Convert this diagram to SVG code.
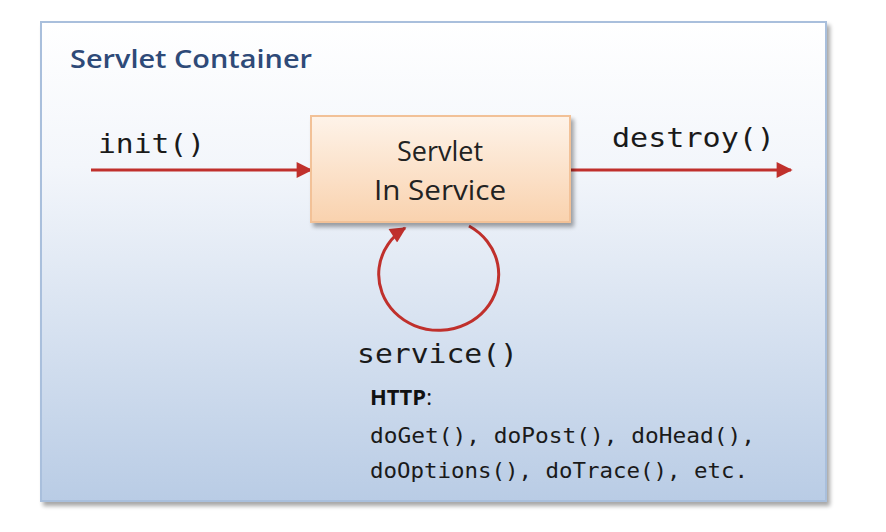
<svg xmlns="http://www.w3.org/2000/svg" width="886" height="532" viewBox="0 0 886 532">
<style>
.mono{font-family:"DejaVu Sans Mono","Liberation Mono",monospace;fill:#1a1a1a}
.sans{font-family:"Open Sans","Liberation Sans",sans-serif;fill:#222}
.conn{stroke:#c0302c;stroke-width:3;fill:none}
</style>
<defs>
<linearGradient id="bg" x1="0" y1="0" x2="0" y2="1">
<stop offset="0" stop-color="#ffffff"/>
<stop offset="0.3" stop-color="#f3f6fb"/>
<stop offset="1" stop-color="#b9cce5"/>
</linearGradient>
<linearGradient id="box" x1="0" y1="0" x2="0" y2="1">
<stop offset="0" stop-color="#fef3e9"/>
<stop offset="1" stop-color="#f9d2ae"/>
</linearGradient>
<filter id="sh" x="-10%" y="-10%" width="120%" height="130%">
<feGaussianBlur in="SourceAlpha" stdDeviation="2"/>
<feOffset dx="3" dy="4"/>
<feComponentTransfer><feFuncA type="linear" slope="0.35"/></feComponentTransfer>
<feMerge><feMergeNode/><feMergeNode in="SourceGraphic"/></feMerge>
</filter>
<marker id="arrL" viewBox="0 0 10 10" refX="9" refY="5" markerWidth="18" markerHeight="16" orient="auto" markerUnits="userSpaceOnUse">
<path d="M0,0 L10,5 L0,10 z" fill="#c0302c"/>
</marker>
</defs>
<rect width="886" height="532" fill="#ffffff"/>
<g id="container">
<rect x="41" y="22" width="785" height="479" fill="url(#bg)" stroke="#a9bfdc" stroke-width="2" filter="url(#sh)"/>
<text x="70" y="68" font-family="'Open Sans','Liberation Sans',sans-serif" font-weight="600" font-size="25" fill="#2e4a78" textLength="242" lengthAdjust="spacingAndGlyphs">Servlet Container</text>
</g>
<g id="connectors">
<line class="conn" x1="91" y1="170" x2="311" y2="170" marker-end="url(#arrL)"/>
<line class="conn" x1="570" y1="170" x2="791" y2="170" marker-end="url(#arrL)"/>
<path class="conn" d="M469,226 A60,56 0 1 1 405,228" marker-end="url(#arrL)"/>
</g>
<g id="servlet">
<rect x="311" y="116" width="259" height="106" fill="url(#box)" stroke="#f2c197" stroke-width="2" filter="url(#sh)"/>
<text class="sans" x="440" y="161" font-size="27" text-anchor="middle">Servlet</text>
<text class="sans" x="440" y="200" font-size="27" text-anchor="middle" textLength="132" lengthAdjust="spacingAndGlyphs">In Service</text>
</g>
<g id="labels">
<text class="mono" x="98" y="153" font-size="27" textLength="107" lengthAdjust="spacingAndGlyphs">init()</text>
<text class="mono" x="612" y="147" font-size="27" textLength="163" lengthAdjust="spacingAndGlyphs">destroy()</text>
<text class="mono" x="357" y="363" font-size="27" textLength="161" lengthAdjust="spacingAndGlyphs">service()</text>
<text x="370" y="405" font-family="'Open Sans','Liberation Sans',sans-serif" font-size="22" fill="#111"><tspan font-weight="bold">HTTP</tspan>:</text>
<text class="mono" x="370" y="443" font-size="22" textLength="385" lengthAdjust="spacingAndGlyphs">doGet(), doPost(), doHead(),</text>
<text class="mono" x="370" y="478" font-size="22" textLength="378" lengthAdjust="spacingAndGlyphs">doOptions(), doTrace(), etc.</text>
</g>
</svg>
